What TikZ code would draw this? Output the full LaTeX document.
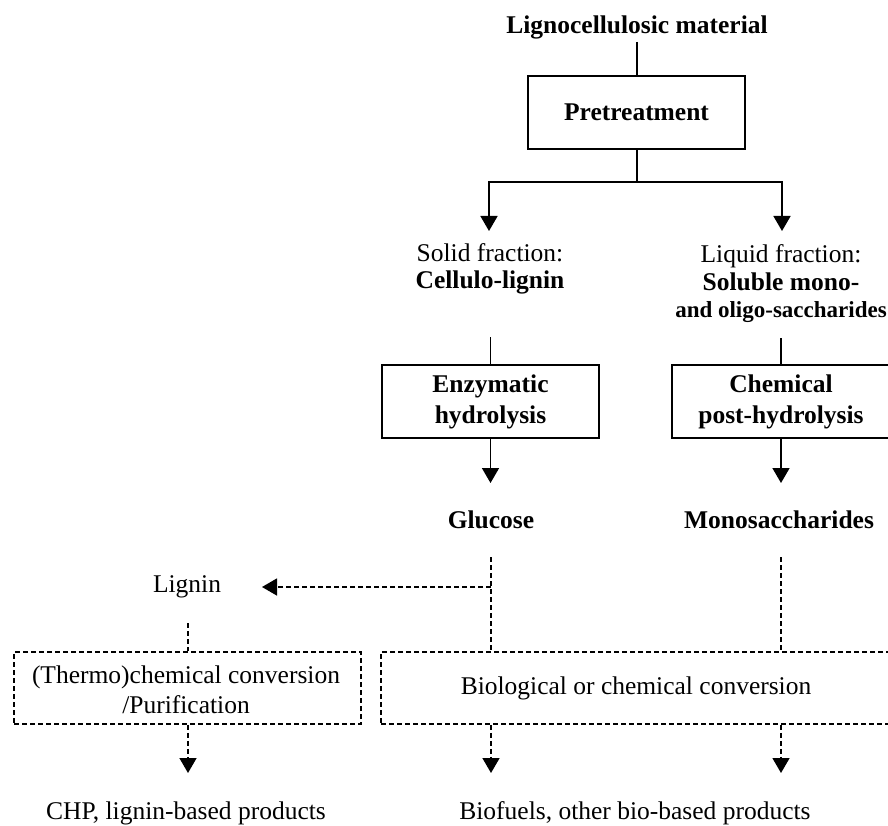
\documentclass[tikz,border=0pt]{standalone}
\usepackage{fontspec}
\setmainfont{Liberation Serif}
\usetikzlibrary{arrows.meta}
\begin{document}
\begin{tikzpicture}[x=1pt,y=-1pt,
  txt/.style={font=\fontsize{25.5}{27.5}\selectfont, align=center, inner sep=0pt},
  btxt/.style={font=\fontsize{25.5}{27.5}\selectfont\bfseries, align=center, inner sep=0pt},
  boxtxt/.style={font=\fontsize{25.5}{31}\selectfont\bfseries, align=center, inner sep=0pt},
  dboxtxt/.style={font=\fontsize{25.5}{30}\selectfont, align=center, inner sep=0pt},
  solidbox/.style={draw, line width=1.6pt, minimum height=73pt},
  dashbox/.style={draw, line width=1.5pt, dash pattern=on 5pt off 3pt, minimum height=72pt},
  ln/.style={line width=1.6pt},
  arr/.style={ln, -{Triangle[width=17pt,length=15pt]}},
  dsh/.style={line width=1.5pt, dash pattern=on 5pt off 3pt},
  darr/.style={dsh, -{Triangle[width=17pt,length=15pt]}}
]
\useasboundingbox (0,0) rectangle (888,826);
\clip (0,0) rectangle (888,826);
\fill[white] (0,0) rectangle (888,826);

% texts and boxes
\node[btxt] (mat) at (637,27) {Lignocellulosic material};
\node[solidbox, boxtxt, minimum width=217pt] (pre) at (636.5,112.5) {Pretreatment};
\node[txt] (solid) at (490,269) {Solid fraction:\\\textbf{Cellulo-lignin}};
\node[txt] (liquid) at (781,284) {Liquid fraction:\\\textbf{Soluble mono-}\\{\fontsize{23}{27.5}\selectfont\bfseries and oligo-saccharides}};
\node[solidbox, boxtxt, minimum width=217pt] (enz) at (490.5,401.5) {Enzymatic\\hydrolysis};
\node[solidbox, minimum width=228pt] (chem) at (786,401.5) {};
\node[boxtxt] (chemt) at (781,401.5) {Chemical\\post-hydrolysis};
\node[btxt] (glu) at (491,520) {Glucose};
\node[btxt] (mono) at (779,520) {Monosaccharides};
\node[txt] (lig) at (187,587) {Lignin};
\node[dashbox, minimum width=347pt] (lbox) at (187.5,688) {};
\node[dboxtxt] (lboxt) at (186,690) {(Thermo)chemical conversion\\/Purification};
\node[dashbox, minimum width=519pt] (rbox) at (640.5,688) {};
\node[txt] (rboxt) at (636,688) {Biological or chemical conversion};
\node[txt] (chp) at (186,813) {CHP, lignin-based products};
\node[txt] (bio) at (635,813) {Biofuels, other bio-based products};

% coordinates
\coordinate (m0) at (637,42);
\coordinate (sp) at (637,182);
\coordinate (ta) at (489,231);
\coordinate (tb) at (782,231);
\coordinate (s0) at (490.5,337);
\coordinate (l0) at (781,338);
\coordinate (ga) at (490.5,483);
\coordinate (gb) at (781,483);
\coordinate (g0) at (491,557);
\coordinate (gj) at (491,587);
\coordinate (lt) at (262,587);
\coordinate (mo0) at (781,557);
\coordinate (lg0) at (188,623);
\coordinate (e1) at (188,773);
\coordinate (e2) at (491,773);
\coordinate (e3) at (781,773);

% solid connectors
\draw[ln] (m0) -- (pre.north -| m0);
\draw[ln] (pre.south -| sp) -- (sp);
\draw[arr] (sp) -| (ta);
\draw[arr] (sp) -| (tb);
\draw[ln] (s0) -- (enz.north);
\draw[ln] (l0) -- (chem.north -| l0);
\draw[arr] (enz.south) -- (ga);
\draw[arr] (chem.south -| gb) -- (gb);

% dashed connectors
\draw[dsh] (g0) -- (rbox.north -| g0);
\draw[darr] (gj) -- (lt);
\draw[dsh] (mo0) -- (rbox.north -| mo0);
\draw[dsh] (lg0) -- (lbox.north -| lg0);
\draw[darr] (lbox.south -| e1) -- (e1);
\draw[darr] (rbox.south -| e2) -- (e2);
\draw[darr] (rbox.south -| e3) -- (e3);
\end{tikzpicture}
\end{document}
